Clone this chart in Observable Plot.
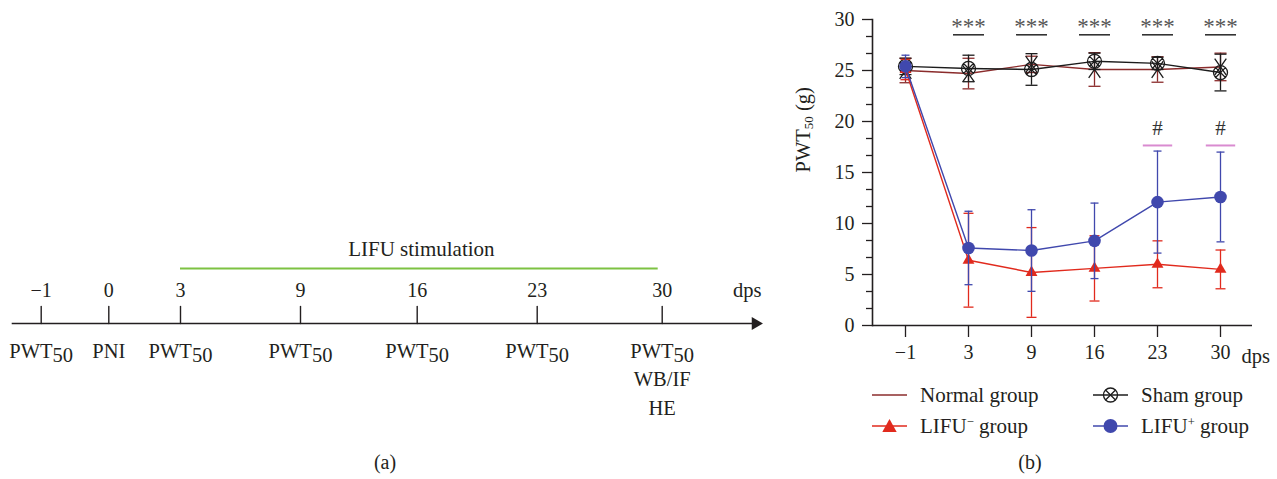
<!DOCTYPE html>
<html><head><meta charset="utf-8">
<script src="https://cdn.jsdelivr.net/npm/d3@7"></script>
<script src="https://cdn.jsdelivr.net/npm/@observablehq/plot@0.6"></script>
<style>
body{margin:0;background:#fff;font-family:"Liberation Serif","Times New Roman",serif;color:#231f20}
#root{position:relative;width:1277px;height:479px;overflow:hidden;background:#fff}
.abs{position:absolute}
.leg{position:absolute;display:flex;align-items:center;font-size:21px;line-height:24px;transform:translateY(-50%);white-space:nowrap}
.leg svg{margin-right:13px;overflow:visible}
.leg sup{font-size:0.6em;vertical-align:0.55em;line-height:0}
.cap{position:absolute;font-size:20px;transform:translateX(-50%)}
</style></head><body><div id="root"></div>
<script>
// ---------- Panel (a): timeline ----------
const timelineDays = [-1, 0, 3, 9, 16, 23, 30];
const timelineTickLabels = ["−1", "0", "3", "9", "16", "23", "30"];
const timelineEvents = ["PWT_50", "PNI", "PWT_50", "PWT_50", "PWT_50", "PWT_50", "PWT_50\nWB/IF\nHE"];
const stimulation = [{start: 3, end: 30, label: "LIFU stimulation"}];

// ---------- Panel (b): PWT50 over time ----------
const days = [-1, 3, 9, 16, 23, 30];
const dayLabels = ["−1", "3", "9", "16", "23", "30"];
const yTicks = [0, 5, 10, 15, 20, 25, 30];
const normalMean = [25.0, 24.7, 25.6, 25.1, 25.1, 25.35];
const normalSD = [1.2, 1.5, 0.8, 1.65, 1.25, 1.35];
const shamMean = [25.4, 25.2, 25.1, 25.9, 25.7, 24.8];
const shamSD = [0.8, 1.3, 1.55, 0.8, 0.6, 1.8];
const lifuMinusMean = [25.1, 6.4, 5.2, 5.6, 6.0, 5.5];
const lifuMinusSD = [1.0, 4.6, 4.4, 3.2, 2.3, 1.9];
const lifuPlusMean = [25.4, 7.6, 7.35, 8.3, 12.1, 12.6];
const lifuPlusSD = [1.1, 3.6, 4.0, 3.7, 5.0, 4.4];
const starDays = [3, 9, 16, 23, 30];
const starLabel = "***";
const starBarValue = 28.5;
const hashDays = [23, 30];
const hashLabel = "#";
const hashBarValue = 17.65;
const groupNames = ["Normal group", "Sham group", "LIFU^− group", "LIFU^+ group"];

// ---------- styling ----------
const ink = "#231f20";
const fontFamily = '"Liberation Serif","Times New Roman",serif';
const colors = ["#8b2c2c", "#1c1c1c", "#e12a1d", "#4048ad"];

const hline = {draw(ctx, size) { const r = Math.sqrt(size / Math.PI); ctx.moveTo(-r, 0); ctx.lineTo(r, 0); }};
const otimes = {draw(ctx, size) { const r = Math.sqrt(size / Math.PI); ctx.moveTo(r, 0); ctx.arc(0, 0, r, 0, 2 * Math.PI); const d = r * Math.SQRT1_2; ctx.moveTo(-d, -d); ctx.lineTo(d, d); ctx.moveTo(-d, d); ctx.lineTo(d, -d); }};
const tallX = {draw(ctx, size) { const r = Math.sqrt(size / Math.PI), w = 0.7 * r; ctx.moveTo(-w, -r); ctx.lineTo(w, r); ctx.moveTo(-w, r); ctx.lineTo(w, -r); }};
const tickShape = {draw(ctx, l) { ctx.moveTo(0, 0); ctx.lineTo(0, -l); }};

function applyScripts(svg, subSize, subShift) {
  const NS = "http://www.w3.org/2000/svg";
  svg.querySelectorAll("text, tspan").forEach(el => {
    for (const node of Array.from(el.childNodes)) {
      if (node.nodeType !== 3) continue;
      const m = node.nodeValue.match(/^(.*?)_(\d+)(.*)$/s);
      if (!m) continue;
      const frag = document.createDocumentFragment();
      frag.append(document.createTextNode(m[1]));
      const sub = document.createElementNS(NS, "tspan");
      sub.setAttribute("font-size", subSize);
      sub.setAttribute("baseline-shift", subShift);
      sub.textContent = m[2];
      frag.append(sub);
      if (m[3]) frag.append(document.createTextNode(m[3]));
      el.replaceChild(frag, node);
    }
  });
}

const root = document.getElementById("root");

// ---------- Panel (a) ----------
const xPx = [40.7, 108.3, 180, 300, 416.7, 536.7, 661.7];
const tl = d3.scaleLinear().domain(timelineDays).range(xPx);
const stimMid = tl.invert((tl(stimulation[0].start) + tl(stimulation[0].end)) / 2);

const plotA = Plot.plot({
  width: 780, height: 430,
  marginLeft: 12, marginRight: 25, marginTop: 268, marginBottom: 107,
  style: {background: "transparent", overflow: "visible", fontFamily, fontSize: "20px", color: ink},
  x: {type: "linear", domain: timelineDays, range: xPx, axis: null},
  y: {domain: [0, 1], axis: null},
  marks: [
    Plot.ruleY(stimulation, {x1: "start", x2: "end", y: 1, stroke: "#7dc242", strokeWidth: 2, insetRight: 4}),
    Plot.text(stimulation, {x: () => stimMid, y: 1, text: "label", dy: -13, lineAnchor: "bottom", fontSize: 21}),
    Plot.frame({anchor: "bottom", stroke: ink, strokeWidth: 1.6}),
    Plot.dot(["arrow"], {frameAnchor: "bottom-right", symbol: "triangle", r: 4.8, rotate: 90, fill: ink, stroke: "none"}),
    Plot.vector(timelineDays, {x: d => d, y: 0, length: 17, rotate: 0, anchor: "start", shape: tickShape, stroke: ink, strokeWidth: 1.4}),
    Plot.text(timelineDays, {x: d => d, y: 0, text: (d, i) => timelineTickLabels[i], dy: -26.3, lineAnchor: "bottom", fontSize: 20}),
    Plot.text(["dps"], {frameAnchor: "bottom-right", dx: 6, dy: -26.3, textAnchor: "end", lineAnchor: "bottom", fontSize: 20.5}),
    Plot.text(timelineDays, {x: d => d, y: 0, text: (d, i) => timelineEvents[i], dy: 14.5, lineAnchor: "top", lineHeight: 1.38, fontSize: 20.5})
  ]
});
applyScripts(plotA, "20.5px", "-4px");
const divA = document.createElement("div");
divA.className = "abs"; divA.style.left = "0px"; divA.style.top = "0px"; divA.style.width = "780px";
divA.append(plotA); root.append(divA);

// ---------- Panel (b) ----------
const groups = [
  {mean: normalMean, sd: normalSD, cap: 6, marker: tallX, r: 8.3, fill: "none", mstroke: "#1c1c1c"},
  {mean: shamMean, sd: shamSD, cap: 6, marker: otimes, r: 7, fill: "none", mstroke: "#1c1c1c"},
  {mean: lifuMinusMean, sd: lifuMinusSD, cap: 5, marker: "triangle", r: 4.4, fill: colors[2], mstroke: "none"},
  {mean: lifuPlusMean, sd: lifuPlusSD, cap: 4, marker: "circle", r: 6.3, fill: colors[3], mstroke: "none"}
].map((g, k) => ({...g, name: groupNames[k], color: colors[k]}));

const groupMarks = groups.flatMap(g => {
  const rows = days.map((d, i) => ({day: d, mean: g.mean[i], lo: g.mean[i] - g.sd[i], hi: g.mean[i] + g.sd[i]}));
  return [
    Plot.ruleX(rows, {x: "day", y1: "lo", y2: "hi", stroke: g.color, strokeWidth: 1.3}),
    Plot.dot(rows, {x: "day", y: "lo", symbol: hline, r: g.cap, stroke: g.color, strokeWidth: 1.3}),
    Plot.dot(rows, {x: "day", y: "hi", symbol: hline, r: g.cap, stroke: g.color, strokeWidth: 1.3}),
    Plot.line(rows, {x: "day", y: "mean", stroke: g.color, strokeWidth: 1.4}),
    Plot.dot(rows, {x: "day", y: "mean", symbol: g.marker, r: g.r, fill: g.fill, stroke: g.mstroke, strokeWidth: 1.3})
  ];
});

const minorTicks = d3.range(0, 30.001, 5 / 3).filter(v => Math.abs(v / 5 - Math.round(v / 5)) > 1e-6);

const plotB = Plot.plot({
  width: 497, height: 370,
  marginLeft: 92, marginRight: 25, marginTop: 19, marginBottom: 45,
  style: {background: "transparent", overflow: "visible", fontFamily, fontSize: "19.5px", color: ink},
  x: {type: "point", domain: days, padding: 0.5},
  y: {domain: [0, 30]},
  marks: [
    Plot.axisY(yTicks, {tickSize: 10, tickPadding: 8, fontSize: 20, label: null, strokeWidth: 1.3}),
    Plot.axisY(minorTicks, {tickSize: 6, tickFormat: () => "", label: null, strokeWidth: 1.3}),
    Plot.axisX({tickSize: 12, tickPadding: 7, fontSize: 20, label: null, strokeWidth: 1.3, tickFormat: d => dayLabels[days.indexOf(d)]}),
    Plot.frame({anchor: "left", stroke: ink, strokeWidth: 1.6}),
    Plot.ruleY([0], {stroke: ink, strokeWidth: 1.6}),
    Plot.text(["dps"], {frameAnchor: "bottom-right", dx: -11, dy: 37, textAnchor: "start", lineAnchor: "bottom", fontSize: 20.5}),
    Plot.text(["PWT_50 (g)"], {frameAnchor: "left", rotate: -90, dx: -69, lineAnchor: "middle", fontSize: 20.5}),
    ...groupMarks,
    Plot.dot(starDays, {x: d => d, y: starBarValue, symbol: hline, r: 15.5, stroke: "#333", strokeWidth: 1.6}),
    Plot.text(starDays, {x: d => d, y: starBarValue, text: () => starLabel, dy: -1, lineAnchor: "bottom", fontSize: 23, fill: "#555"}),
    Plot.dot(hashDays, {x: d => d, y: hashBarValue, symbol: hline, r: 14.7, stroke: "#d98bd0", strokeWidth: 2}),
    Plot.text(hashDays, {x: d => d, y: hashBarValue, text: () => hashLabel, dy: -10, lineAnchor: "bottom", fontSize: 21, fill: "#333"})
  ]
});
applyScripts(plotB, "13px", "-3px");
const divB = document.createElement("div");
divB.className = "abs"; divB.style.left = "780px"; divB.style.top = "0px"; divB.style.width = "497px";
divB.append(plotB); root.append(divB);

// ---------- Legend (HTML, below panel b) ----------
const legendPos = [[872, 395], [1093, 395], [872, 426], [1093, 426]];
function iconSvg(g) {
  let m = "";
  const c = 17.5, y = 12;
  if (g.marker === otimes) m = `<circle cx="${c}" cy="${y}" r="7" fill="none" stroke="${g.mstroke}" stroke-width="1.3"/><path d="M${c-5},${y-5}L${c+5},${y+5}M${c-5},${y+5}L${c+5},${y-5}" stroke="${g.mstroke}" stroke-width="1.3"/>`;
  else if (g.marker === "triangle") m = `<path d="M${c},${y-7}L${c+7.2},${y+6}L${c-7.2},${y+6}Z" fill="${g.fill}"/>`;
  else if (g.marker === "circle") m = `<circle cx="${c}" cy="${y}" r="7" fill="${g.fill}"/>`;
  return `<svg width="35" height="24" viewBox="0 0 35 24"><line x1="0" x2="35" y1="${y}" y2="${y}" stroke="${g.k === 1 ? g.mstroke : g.color}" stroke-width="1.6"/>${m}</svg>`;
}
groups.forEach((g, k) => {
  g.k = k;
  const el = document.createElement("div");
  el.className = "leg";
  el.style.left = legendPos[k][0] + "px";
  el.style.top = legendPos[k][1] + "px";
  const label = g.name.replace(/\^(.)/, "<sup>$1</sup>");
  el.innerHTML = iconSvg(g) + `<span>${label}</span>`;
  root.append(el);
});

// ---------- Panel captions ----------
[["(a)", 385], ["(b)", 1030]].forEach(([t, x]) => {
  const el = document.createElement("div");
  el.className = "cap"; el.textContent = t;
  el.style.left = x + "px"; el.style.top = "451px";
  root.append(el);
});
</script></body></html>
